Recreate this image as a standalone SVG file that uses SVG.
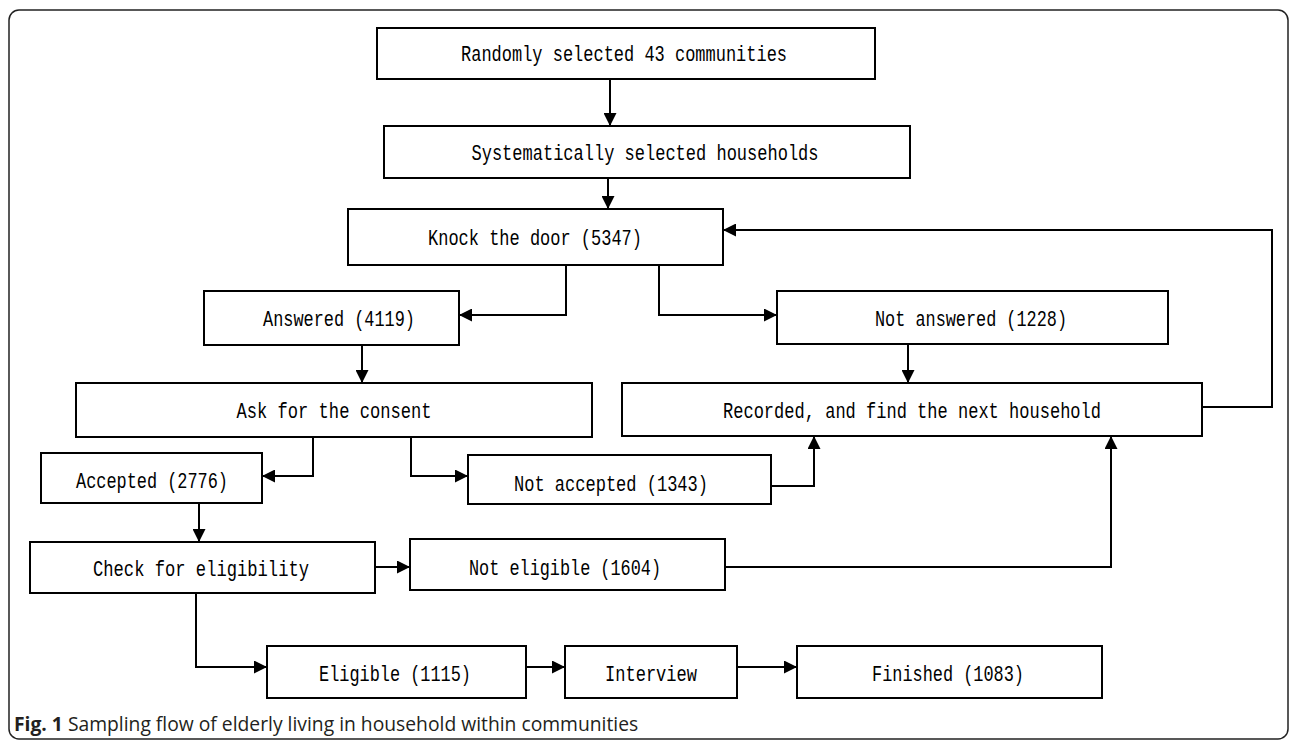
<svg xmlns="http://www.w3.org/2000/svg" width="1292" height="741" viewBox="0 0 1292 741">
<style>
.box{fill:#fff;stroke:#000;stroke-width:2}
.t{font-family:"Liberation Mono",monospace;font-size:22px;fill:#000;text-anchor:middle;dominant-baseline:central}
.c{fill:none;stroke:#000;stroke-width:2}
.cap{font-family:"Open Sans",sans-serif;font-size:19.3px;fill:#231f20}
</style>
<defs>
<marker id="ah" viewBox="0 0 10 10" refX="10" refY="5" markerWidth="13" markerHeight="13" markerUnits="userSpaceOnUse" orient="auto">
<path d="M0,0 L10,5 L0,10 z" fill="#000"/>
</marker>
</defs>
<rect x="9" y="10" width="1279" height="729" rx="10" ry="10" fill="#fff" stroke="#222" stroke-width="1.5"/>
<g id="connectors">
<path class="c" d="M610,79 V126" marker-end="url(#ah)"/>
<path class="c" d="M608,178 V209" marker-end="url(#ah)"/>
<path class="c" d="M566,265 V315 H459" marker-end="url(#ah)"/>
<path class="c" d="M659,265 V315 H777" marker-end="url(#ah)"/>
<path class="c" d="M362,345 V383" marker-end="url(#ah)"/>
<path class="c" d="M908,344 V383" marker-end="url(#ah)"/>
<path class="c" d="M313,437 V476 H262" marker-end="url(#ah)"/>
<path class="c" d="M411,437 V476 H468" marker-end="url(#ah)"/>
<path class="c" d="M771,486 H814 V436" marker-end="url(#ah)"/>
<path class="c" d="M1202,407 H1272 V230 H723" marker-end="url(#ah)"/>
<path class="c" d="M199,503 V542" marker-end="url(#ah)"/>
<path class="c" d="M375,567 H410" marker-end="url(#ah)"/>
<path class="c" d="M725,567 H1111 V436" marker-end="url(#ah)"/>
<path class="c" d="M196,593 V667 H267" marker-end="url(#ah)"/>
<path class="c" d="M526,667 H565" marker-end="url(#ah)"/>
<path class="c" d="M737,667 H797" marker-end="url(#ah)"/>
</g>
<g id="n1"><rect class="box" x="377" y="28" width="498" height="51"/><text class="t" x="624" y="55" textLength="326" lengthAdjust="spacingAndGlyphs">Randomly selected 43 communities</text></g>
<g id="n2"><rect class="box" x="384" y="126" width="526" height="52"/><text class="t" x="645" y="154" textLength="347" lengthAdjust="spacingAndGlyphs">Systematically selected households</text></g>
<g id="n3"><rect class="box" x="348" y="209" width="375" height="56"/><text class="t" x="535" y="239" textLength="214" lengthAdjust="spacingAndGlyphs">Knock the door (5347)</text></g>
<g id="n4"><rect class="box" x="204" y="291" width="255" height="54"/><text class="t" x="339" y="320" textLength="152" lengthAdjust="spacingAndGlyphs">Answered (4119)</text></g>
<g id="n5"><rect class="box" x="777" y="291" width="391" height="53"/><text class="t" x="971" y="320" textLength="192" lengthAdjust="spacingAndGlyphs">Not answered (1228)</text></g>
<g id="n6"><rect class="box" x="76" y="383" width="516" height="54"/><text class="t" x="334" y="412" textLength="195" lengthAdjust="spacingAndGlyphs">Ask for the consent</text></g>
<g id="n7"><rect class="box" x="622" y="383" width="580" height="53"/><text class="t" x="912" y="412" textLength="378" lengthAdjust="spacingAndGlyphs">Recorded, and find the next household</text></g>
<g id="n8"><rect class="box" x="41" y="453" width="221" height="50"/><text class="t" x="152" y="482" textLength="152" lengthAdjust="spacingAndGlyphs">Accepted (2776)</text></g>
<g id="n9"><rect class="box" x="468" y="455" width="303" height="49"/><text class="t" x="611" y="485" textLength="194" lengthAdjust="spacingAndGlyphs">Not accepted (1343)</text></g>
<g id="n10"><rect class="box" x="30" y="542" width="345" height="51"/><text class="t" x="201" y="570" textLength="216" lengthAdjust="spacingAndGlyphs">Check for eligibility</text></g>
<g id="n11"><rect class="box" x="410" y="539" width="315" height="51"/><text class="t" x="565" y="569" textLength="192" lengthAdjust="spacingAndGlyphs">Not eligible (1604)</text></g>
<g id="n12"><rect class="box" x="267" y="646" width="259" height="52"/><text class="t" x="395" y="675" textLength="152" lengthAdjust="spacingAndGlyphs">Eligible (1115)</text></g>
<g id="n13"><rect class="box" x="565" y="646" width="172" height="52"/><text class="t" x="651" y="675" textLength="92" lengthAdjust="spacingAndGlyphs">Interview</text></g>
<g id="n14"><rect class="box" x="797" y="646" width="305" height="52"/><text class="t" x="948" y="675" textLength="152" lengthAdjust="spacingAndGlyphs">Finished (1083)</text></g>
<text class="cap" x="14" y="731"><tspan font-weight="bold">Fig. 1</tspan> Sampling flow of elderly living in household within communities</text>
</svg>
